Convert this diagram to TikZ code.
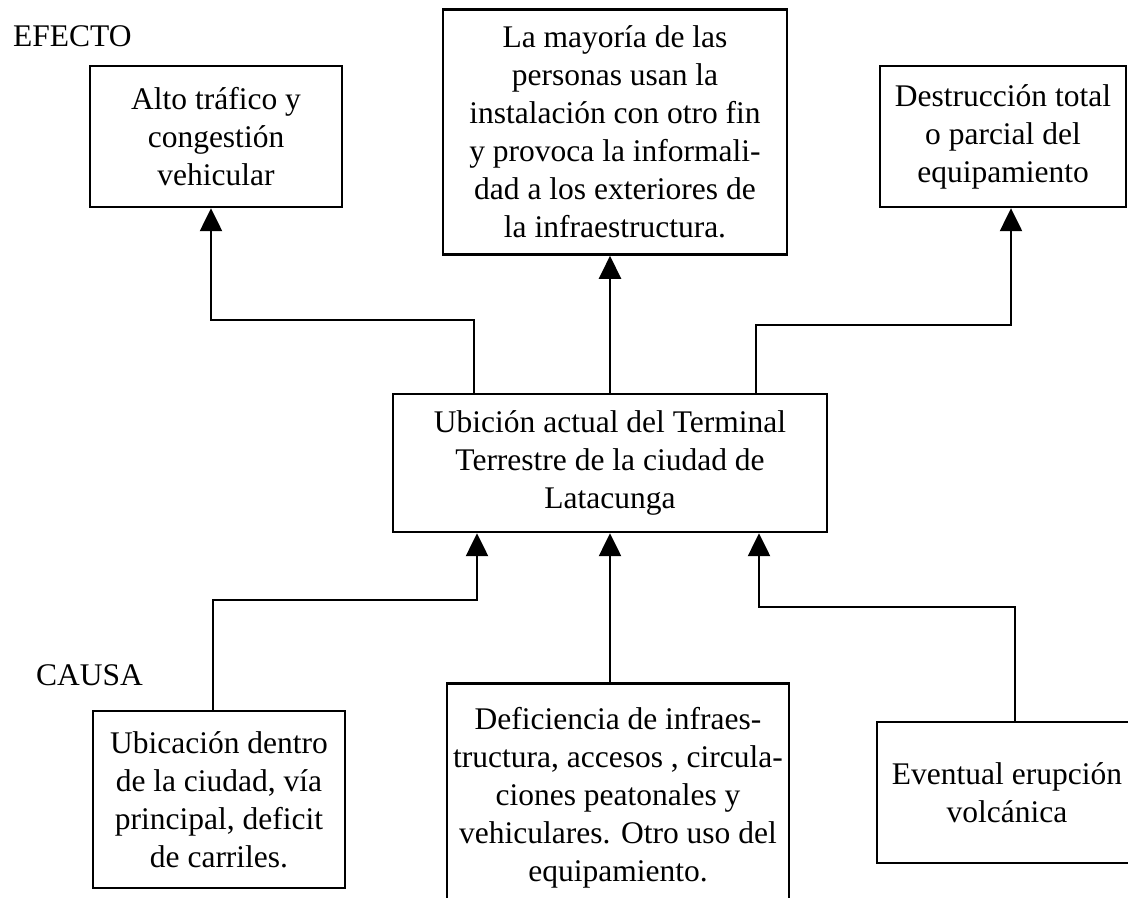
\documentclass[tikz,border=0pt]{standalone}
\usepackage{fontspec}
\setmainfont{Liberation Serif}
\usetikzlibrary{positioning,arrows.meta}

\begin{document}
\begin{tikzpicture}[x=0.5pt,y=-0.5pt,->,>={Triangle[width=11pt,length=11.5pt]},line width=1.2pt]

  % estilos
  \tikzstyle{caja}=[rectangle,draw,align=center,inner sep=0pt,font=\fontsize{15.75}{19}\selectfont]
  \tikzstyle{rotulo}=[font=\fontsize{15.75}{19}\selectfont,inner sep=0pt]

  \useasboundingbox (0,0) rectangle (1128,898);
  \clip (0,0) rectangle (1128,898);

  % problema central
  \node[caja,minimum width=217pt,minimum height=69pt] (ubic) at (610,463)
    {Ubición actual del Terminal\\Terrestre de la ciudad de\\Latacunga};

  % efectos
  \node[caja,minimum width=126pt,minimum height=70.5pt] (trafico) at (216,136.5)
    {Alto tráfico y\\congestión\\vehicular};
  \node[caja,minimum width=172pt,minimum height=122.5pt] (mayoria) [above=68.5pt of ubic,xshift=2.5pt]
    {La mayoría de las\\personas usan la\\instalación con otro fin\\y provoca la informali-\\dad a los exteriores de\\la infraestructura.};
  \node[caja,minimum width=123pt,minimum height=70.5pt] (destruccion) at (1003,136.5)
    {Destrucción total\\o parcial del\\equipamiento};

  % causas
  \node[caja,minimum width=126pt,minimum height=88.5pt] (ubica) at (219,799.5)
    {Ubicación dentro\\de la ciudad, vía\\principal, deficit\\de carriles.};
  \node[caja,minimum width=171pt,minimum height=114pt] (deficiencia) [below=74.5pt of ubic,xshift=4pt]
    {Deficiencia de infraes-\\tructura, accesos , circula-\\ciones peatonales y\\vehiculares. Otro uso del\\equipamiento.};
  \node[caja,minimum width=130pt,minimum height=70.5pt] (erupcion) at (1007,792.5)
    {Eventual erupción\\volcánica};

  % rotulos
  \node[rotulo,anchor=base west] (efecto) at (12,47) {EFECTO};
  \node[rotulo,anchor=base west] (causa) at (35,685) {CAUSA};

  % conectores hacia los efectos
  \draw ([xshift=-68pt]ubic.north) -- ++(0,-73) -| ([xshift=-2.5pt]trafico.south);
  \draw (ubic.north) -- (ubic.north |- mayoria.south);
  \draw ([xshift=73pt]ubic.north) -- ++(0,-68) -| ([xshift=4pt]destruccion.south);

  % conectores desde las causas
  \draw ([xshift=-3pt]ubica.north) -- ++(0,-110) -| ([xshift=-66.5pt]ubic.south);
  \draw (ubic.south |- deficiencia.north) -- (ubic.south);
  \draw ([xshift=4pt]erupcion.north) -- ++(0,-114) -| ([xshift=74.5pt]ubic.south);

\end{tikzpicture}
\end{document}
